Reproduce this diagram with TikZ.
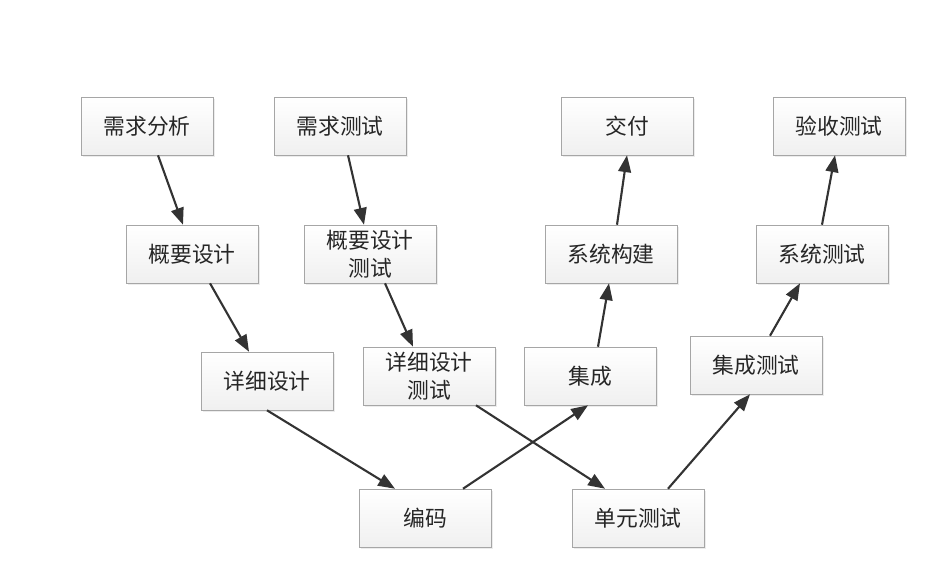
\documentclass[tikz,border=0pt]{standalone}
\usepackage{fontspec}
\setmainfont{Noto Sans CJK SC}
\usepackage{tikz}
\usetikzlibrary{arrows.meta, positioning, shadows}

\begin{document}
\begin{tikzpicture}[
    block/.style={draw=gray!70, rectangle, top color=white, bottom color=gray!12, drop shadow={opacity=0.15, shadow xshift=0.06cm, shadow yshift=-0.06cm}, minimum width=3.3cm, minimum height=1.45cm, align=center, font=\fontsize{15.5}{20}\selectfont, text=black!85},
    arrow/.style={-{Triangle[length=0.42cm, width=0.32cm]}, line width=1.5pt, black!80}
]
    \useasboundingbox (0,0) rectangle (23.45,-14.625);

    % Nodes
    \node[block] (reqana) at (3.675,-3.15) {需求分析};
    \node[block] (reqtest) at (8.5,-3.15) {需求测试};
    \node[block] (deliver) at (15.675,-3.15) {交付};
    \node[block] (acctest) at (20.975,-3.15) {验收测试};

    \node[block] (hld) at (4.8,-6.35) {概要设计};
    \node[block] (hldtest) at (9.25,-6.35) {概要设计\\测试};
    \node[block] (sysbuild) at (15.275,-6.35) {系统构建};
    \node[block] (systest) at (20.55,-6.35) {系统测试};

    \node[block] (lld) at (6.675,-9.525) {详细设计};
    \node[block] (lldtest) at (10.725,-9.4) {详细设计\\测试};
    \node[block] (integ) at (14.75,-9.4) {集成};
    \node[block] (integtest) at (18.9,-9.125) {集成测试};

    \node[block] (coding) at (10.625,-12.95) {编码};
    \node[block] (unittest) at (15.95,-12.95) {单元测试};

    % Connections (left branch)
    \draw[arrow] ([xshift=0.275cm]reqana.south) -- ([xshift=-0.225cm]hld.north);
    \draw[arrow] ([xshift=0.2cm]reqtest.south) -- ([xshift=-0.15cm]hldtest.north);
    \draw[arrow] ([xshift=0.45cm]hld.south) -- ([xshift=-0.45cm]lld.north);
    \draw[arrow] ([xshift=0.375cm]hldtest.south) -- ([xshift=-0.4cm]lldtest.north);
    \draw[arrow] (lld.south) -- ([xshift=-0.75cm]coding.north);
    \draw[arrow] ([xshift=1.175cm]lldtest.south) -- ([xshift=-0.825cm]unittest.north);

    % Connections (right branch)
    \draw[arrow] ([xshift=0.95cm]coding.north) -- ([xshift=-0.05cm]integ.south);
    \draw[arrow] ([xshift=0.75cm]unittest.north) -- ([xshift=-0.15cm]integtest.south);
    \draw[arrow] ([xshift=0.2cm]integ.north) -- ([xshift=-0.05cm]sysbuild.south);
    \draw[arrow] ([xshift=0.35cm]integtest.north) -- ([xshift=-0.55cm]systest.south);
    \draw[arrow] ([xshift=0.15cm]sysbuild.north) -- (deliver.south);
    \draw[arrow] (systest.north) -- ([xshift=-0.1cm]acctest.south);
\end{tikzpicture}
\end{document}
